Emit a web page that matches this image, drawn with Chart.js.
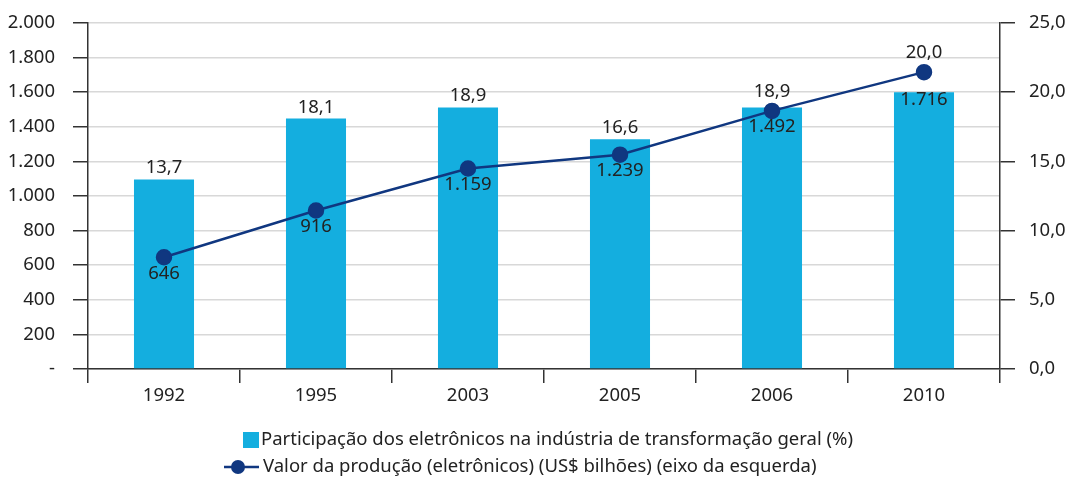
<!DOCTYPE html>
<html>
<head>
<meta charset="utf-8">
<script src="https://cdn.jsdelivr.net/npm/chart.js@4"></script>
<style>
  html, body { margin: 0; padding: 0; background: #fff; }
  #wrap { width: 1068px; height: 478px; }
</style>
</head>
<body>
<div id="wrap"><canvas id="chart"></canvas></div>
<script>
const anos = ['1992', '1995', '2003', '2005', '2006', '2010'];
const participacao = [13.7, 18.1, 18.9, 16.6, 18.9, 20.0];
const producao = [646, 916, 1159, 1239, 1492, 1716];

const corBarra = 'rgb(20, 174, 223)';
const corLinha = 'rgb(16, 55, 128)';
const corTexto = '#222';
const fonte = '"Noto Sans", "DejaVu Sans", sans-serif';
const tam = 18.5;

const fmtMil = v => v === 0 ? '-' : v.toLocaleString('pt-BR');
const fmtPct = v => v.toFixed(1).replace('.', ',');

// rótulos das barras e dos pontos
const rotulos = {
  id: 'rotulos',
  afterDatasetsDraw(chart) {
    const ctx = chart.ctx;
    const barras = chart.getDatasetMeta(0).data;
    const pontos = chart.getDatasetMeta(1).data;
    ctx.save();
    ctx.font = tam + 'px ' + fonte;
    ctx.fillStyle = corTexto;
    ctx.textAlign = 'center';
    barras.forEach((b, i) => {
      const p = pontos[i];
      ctx.textBaseline = 'bottom';
      const topo = Math.min(b.y, p.y - 8);
      ctx.fillText(fmtPct(participacao[i]), b.x, topo - 2);
      ctx.textBaseline = 'top';
      ctx.fillText(fmtMil(producao[i]), p.x, Math.max(p.y + 7, b.y - 2));
    });
    ctx.restore();
  }
};

// legenda em duas linhas
const legenda = {
  id: 'legenda',
  afterDraw(chart) {
    const ctx = chart.ctx;
    const ds = chart.data.datasets;
    ctx.save();
    ctx.font = tam + 'px ' + fonte;
    ctx.textBaseline = 'middle';
    ctx.textAlign = 'left';
    const w1 = ctx.measureText(ds[0].label).width;
    const x0 = 548 - (w1 + 18) / 2;
    const xt = x0 + 18;
    // linha 1: barra
    ctx.fillStyle = corBarra;
    ctx.fillRect(x0, 432, 16, 16);
    ctx.fillStyle = corTexto;
    ctx.fillText(ds[0].label, xt, 440);
    // linha 2: linha com marcador
    ctx.strokeStyle = corLinha;
    ctx.lineWidth = 2.5;
    ctx.beginPath();
    ctx.moveTo(xt - 37, 467);
    ctx.lineTo(xt - 2, 467);
    ctx.stroke();
    ctx.fillStyle = corLinha;
    ctx.beginPath();
    ctx.arc(xt - 23, 467, 7, 0, Math.PI * 2);
    ctx.fill();
    ctx.fillStyle = corTexto;
    ctx.fillText(ds[1].label, xt + 2, 467);
    ctx.restore();
  }
};

// largura fixa e sem folga extra no topo
const fixaY = w => s => { s.width = w; s.paddingTop = 0; s.paddingBottom = 0; };

new Chart(document.getElementById('chart'), {
  type: 'bar',
  data: {
    labels: anos,
    datasets: [{
      label: 'Participação dos eletrônicos na indústria de transformação geral (%)',
      data: participacao,
      backgroundColor: corBarra,
      yAxisID: 'y1',
      barPercentage: 0.395,
      categoryPercentage: 1,
      order: 2
    }, {
      type: 'line',
      label: 'Valor da produção (eletrônicos) (US$ bilhões) (eixo da esquerda)',
      data: producao,
      yAxisID: 'y',
      borderColor: corLinha,
      backgroundColor: corLinha,
      borderWidth: 2.5,
      pointRadius: 7,
      pointHoverRadius: 7,
      tension: 0,
      order: 1
    }]
  },
  options: {
    responsive: true,
    maintainAspectRatio: false,
    animation: false,
    layout: { padding: { top: 23, right: 0, left: 0, bottom: 0 } },
    plugins: {
      legend: { display: false },
      tooltip: { enabled: false }
    },
    scales: {
      x: {
        grid: { offset: true, drawOnChartArea: false, tickLength: 14, tickColor: '#333', lineWidth: 1.5 },
        border: { color: '#333', width: 1.5 },
        ticks: { color: corTexto, font: { family: fonte, size: tam }, padding: 2 },
        afterFit(s) { s.height = 109; }
      },
      y: {
        position: 'left',
        min: 0, max: 2000,
        ticks: { stepSize: 200, callback: fmtMil, color: corTexto, font: { family: fonte, size: tam }, padding: 18 },
        grid: { color: '#d8d8d8', lineWidth: 1.5, tickColor: '#333', tickLength: 15 },
        border: { color: '#333', width: 1.5 },
        afterFit: fixaY(88)
      },
      y1: {
        position: 'right',
        min: 0, max: 25,
        ticks: { stepSize: 5, callback: fmtPct, color: corTexto, font: { family: fonte, size: tam }, padding: 14 },
        grid: { drawOnChartArea: false, tickColor: '#333', tickLength: 15, lineWidth: 1.5 },
        border: { color: '#333', width: 1.5 },
        afterFit: fixaY(68)
      }
    }
  },
  plugins: [rotulos, legenda]
});
</script>
</body>
</html>
